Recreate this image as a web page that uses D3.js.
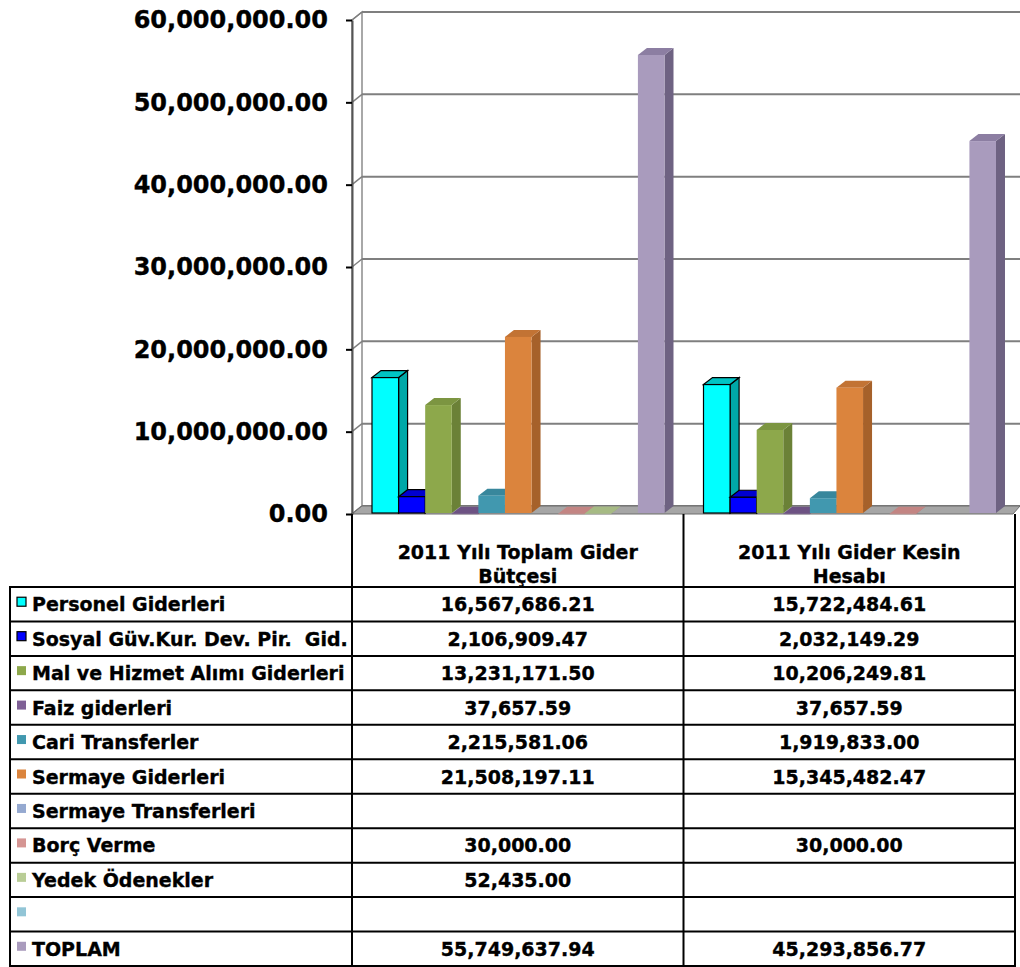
<!DOCTYPE html>
<html>
<head>
<meta charset="utf-8">
<script src="https://cdn.jsdelivr.net/npm/d3@7"></script>
<style>
  body { margin: 0; background: #fff; }
  text { font-family: "DejaVu Sans", Verdana, sans-serif; font-weight: bold; fill: #000; stroke: #000; stroke-width: 0.35px; }
</style>
</head>
<body>
<svg id="mainSVG"></svg>
<script>
// chart data
var categories = ["2011 Yılı Toplam Gider Bütçesi", "2011 Yılı Gider Kesin Hesabı"];
var categoryLines = [["2011 Yılı Toplam Gider", "Bütçesi"], ["2011 Yılı Gider Kesin", "Hesabı"]];
var seriesNames = ["Personel Giderleri", "Sosyal Güv.Kur. Dev. Pir.  Gid.", "Mal ve Hizmet Alımı Giderleri",
    "Faiz giderleri", "Cari Transferler", "Sermaye Giderleri", "Sermaye Transferleri",
    "Borç Verme", "Yedek Ödenekler", "", "TOPLAM"];
var butceValues = [16567686.21, 2106909.47, 13231171.50, 37657.59, 2215581.06, 21508197.11, null, 30000.00, 52435.00, null, 55749637.94];
var kesinValues = [15722484.61, 2032149.29, 10206249.81, 37657.59, 1919833.00, 15345482.47, null, 30000.00, null, null, 45293856.77];
var yTicks = [0, 10000000, 20000000, 30000000, 40000000, 50000000, 60000000];

// colors: front, side, top
var colors = [
    ["#00FFFF", "#00A8A8", "#00C4C4"],
    ["#0000FF", "#0000B0", "#0000D0"],
    ["#8DA84B", "#6B8137", "#7C9541"],
    ["#7F6096", "#5C466E", "#6D5283"],
    ["#4198AF", "#2F7385", "#38879C"],
    ["#DB843D", "#A6612A", "#C27334"],
    ["#95A9D0", "#7085AE", "#8296BF"],
    ["#D59593", "#B07270", "#C38583"],
    ["#B9CD96", "#94A872", "#A6BA84"],
    ["#92C5D6", "#6FA0B1", "#80B2C3"],
    ["#A99BBD", "#6E6282", "#8C7EA2"]
];
var outlined = [true, true, false, false, false, false, false, false, false, false, false];

var width = 1020, height = 967;
var wallDx = 10, wallDy = -8;
var barDx = 9, barDy = -7;
var plotLeft = 352, plotRight = 1015;
var tableLeft = 10, tableTop = 587, tableBottom = 966;

var svg = d3.select("#mainSVG").attr("width", width).attr("height", height);

var y = d3.scaleLinear().domain([0, 60000000]).range([514, 20]);
var x0 = d3.scaleBand().domain(categories).range([plotLeft, plotRight]);
var x1 = d3.scaleBand().domain(d3.range(seriesNames.length)).range([20, x0.bandwidth() - 19]);

// left side wall
svg.append("polygon")
    .attr("points", [[plotLeft, y(0)], [plotLeft, y(60000000)], [plotLeft + wallDx, y(60000000) + wallDy], [plotLeft + wallDx, y(0) + wallDy]].join(" "))
    .attr("fill", "#fff")
    .attr("stroke", "#8c8c8c")
    .attr("stroke-width", 1.5);

// gridlines on the back wall, with diagonals on the side wall
yTicks.forEach(function(t) {
    svg.append("line")
        .attr("x1", plotLeft + wallDx).attr("x2", width)
        .attr("y1", y(t) + wallDy).attr("y2", y(t) + wallDy)
        .attr("stroke", "#7f7f7f").attr("stroke-width", 2);
    svg.append("line")
        .attr("x1", plotLeft).attr("x2", plotLeft + wallDx)
        .attr("y1", y(t)).attr("y2", y(t) + wallDy)
        .attr("stroke", "#7f7f7f").attr("stroke-width", 1.5);
});

// floor
svg.append("polygon")
    .attr("points", [[plotLeft, y(0)], [plotRight - 2, y(0)], [width, y(0) + wallDy], [plotLeft + wallDx, y(0) + wallDy]].join(" "))
    .attr("fill", "#a6a6a6")
    .attr("stroke", "#6f6f6f")
    .attr("stroke-width", 1);

// y axis
var yAxis = svg.append("g")
    .attr("transform", "translate(" + plotLeft + ",0)")
    .call(d3.axisLeft(y).tickValues(yTicks).tickFormat(d3.format(",.2f")).tickSize(6).tickSizeOuter(0).tickPadding(18));
yAxis.select(".domain").attr("stroke", "#555").attr("stroke-width", 2);
yAxis.selectAll(".tick line").attr("stroke", "#000").attr("stroke-width", 2);
yAxis.selectAll(".tick text")
    .style("font-size", "24px")
    .style("font-family", "'DejaVu Sans', sans-serif")
    .style("font-weight", "bold")
    .attr("fill", "#000");

// bars
var allValues = [butceValues, kesinValues];
categories.forEach(function(cat, ci) {
    var g = svg.append("g").attr("transform", "translate(" + x0(cat) + ",0)");
    allValues[ci].forEach(function(v, si) {
        if (v == null) { return; }
        var bx = x1(si), bw = x1.bandwidth();
        var top = y(v), base = y(0) - 1;
        var stroke = outlined[si] ? "#000" : "none";
        // side face
        g.append("polygon")
            .attr("points", [[bx + bw, top], [bx + bw + barDx, top + barDy], [bx + bw + barDx, base + barDy], [bx + bw, base]].join(" "))
            .attr("fill", colors[si][1])
            .attr("stroke", stroke).attr("stroke-width", 1.2);
        // top face
        g.append("polygon")
            .attr("points", [[bx, top], [bx + barDx, top + barDy], [bx + bw + barDx, top + barDy], [bx + bw, top]].join(" "))
            .attr("fill", colors[si][2])
            .attr("stroke", stroke).attr("stroke-width", 1.2);
        // front face
        g.append("rect")
            .attr("x", bx).attr("y", top)
            .attr("width", bw).attr("height", Math.max(base - top, 0.5))
            .attr("fill", colors[si][0])
            .attr("stroke", stroke).attr("stroke-width", 1.2);
    });
});

// category header cells
[plotLeft, x0(categories[1]), plotRight].forEach(function(xv) {
    svg.append("line")
        .attr("x1", xv).attr("x2", xv)
        .attr("y1", y(0)).attr("y2", tableTop)
        .attr("stroke", "#000").attr("stroke-width", 2);
});
categories.forEach(function(cat, ci) {
    var t = svg.append("text")
        .attr("x", x0(cat) + x0.bandwidth() / 2)
        .attr("text-anchor", "middle")
        .style("font-size", "19px");
    categoryLines[ci].forEach(function(line, li) {
        t.append("tspan")
            .attr("x", x0(cat) + x0.bandwidth() / 2)
            .attr("y", 559 + li * 24)
            .text(line);
    });
});

// data table
var rowH = (tableBottom - tableTop) / seriesNames.length;
var fmt = d3.format(",.2f");
var table = svg.append("g");
seriesNames.forEach(function(name, si) {
    var ry = tableTop + si * rowH;
    table.append("rect")
        .attr("x", 17).attr("y", ry + rowH / 2 - 7)
        .attr("width", 9).attr("height", 9)
        .attr("fill", colors[si][0])
        .attr("stroke", outlined[si] ? "#000" : "none")
        .attr("stroke-width", 1.2);
    table.append("text")
        .attr("x", 32).attr("y", ry + rowH / 2 + 7)
        .style("font-size", "19px")
        .style("white-space", "pre")
        .text(name);
    allValues.forEach(function(vals, ci) {
        if (vals[si] == null) { return; }
        table.append("text")
            .attr("x", x0(categories[ci]) + x0.bandwidth() / 2)
            .attr("y", ry + rowH / 2 + 7)
            .attr("text-anchor", "middle")
            .style("font-size", "19px")
            .text(fmt(vals[si]));
    });
    if (si > 0) {
        table.append("line")
            .attr("x1", tableLeft).attr("x2", plotRight)
            .attr("y1", ry).attr("y2", ry)
            .attr("stroke", "#000").attr("stroke-width", 2);
    }
});
table.append("rect")
    .attr("x", tableLeft).attr("y", tableTop)
    .attr("width", plotRight - tableLeft).attr("height", tableBottom - tableTop)
    .attr("fill", "none").attr("stroke", "#000").attr("stroke-width", 2);
[plotLeft, x0(categories[1])].forEach(function(xv) {
    table.append("line")
        .attr("x1", xv).attr("x2", xv)
        .attr("y1", tableTop).attr("y2", tableBottom)
        .attr("stroke", "#000").attr("stroke-width", 2);
});
</script>
</body>
</html>
